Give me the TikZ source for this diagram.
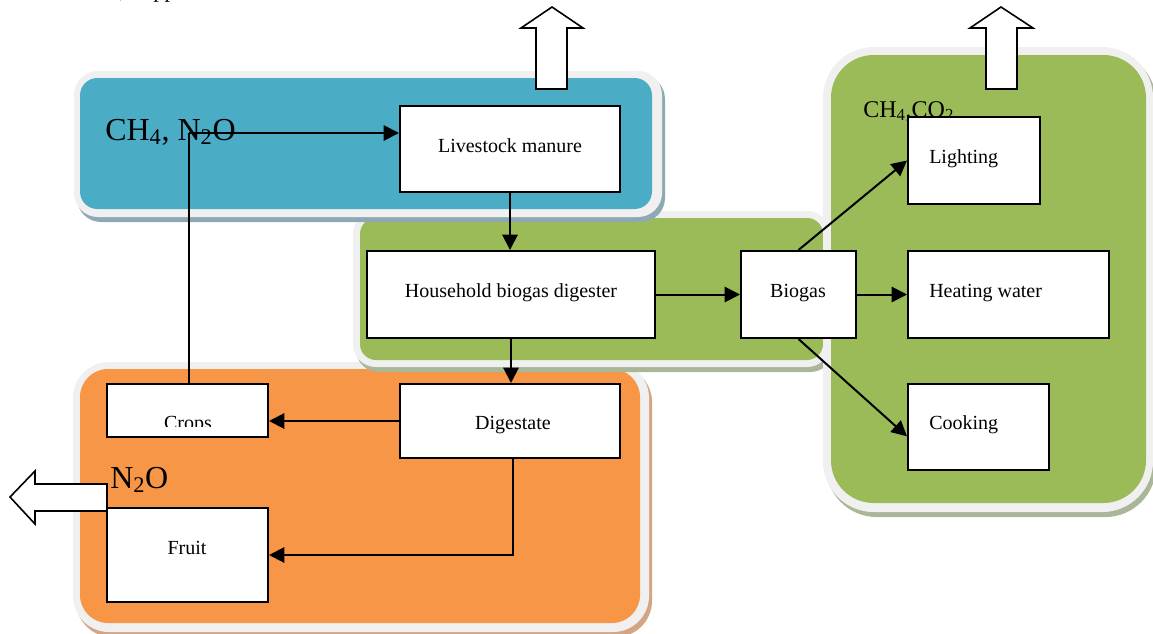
\documentclass[tikz,border=0pt]{standalone}
\usepackage{fontspec}
\setmainfont{Liberation Serif}
\usetikzlibrary{arrows.meta,fit}

\definecolor{panelblue}{HTML}{4BACC6}
\definecolor{panelgreen}{HTML}{9BBB59}
\definecolor{panelorange}{HTML}{F79646}
\definecolor{rim}{HTML}{F0F0F0}
\definecolor{shblue}{HTML}{8FA9B4}
\definecolor{shgreen}{HTML}{A9B697}
\definecolor{shorange}{HTML}{D4A584}

\begin{document}
\begin{tikzpicture}[x=0.75pt,y=-0.75pt,
  box/.style={draw=black, fill=white, line width=1.5pt, inner sep=0pt},
  txt/.style={inner sep=0pt, font=\fontsize{15pt}{18pt}\selectfont},
  gas/.style={inner sep=0pt, font=\fontsize{24pt}{28pt}\selectfont},
  smallgas/.style={inner sep=0pt, font=\fontsize{18pt}{21pt}\selectfont},
  flow/.style={line width=1.5pt, -{Triangle[length=11.5pt,width=11.5pt]}},
  hollow/.style={draw=black, fill=white, line width=1.2pt, line join=miter}]

\useasboundingbox (0,0) rectangle (1153,633);

% tail of the caption line above the figure
\node[inner sep=0pt, anchor=base west, font=\fontsize{17pt}{20pt}\selectfont] (capa) at (119,-3) {,};
\node[inner sep=0pt, anchor=base west, font=\fontsize{17pt}{20pt}\selectfont] (capb) at (153,-3) {pp};

% ---- background panels: shadow, light rim, coloured face ----
% field (orange)
\fill[shorange, rounded corners=27pt] (76,366) rectangle (652,637);
\fill[rim, rounded corners=27pt] (73,362) rectangle (649,632);
\fill[panelorange, rounded corners=21pt] (80,369) rectangle (640,623);
% digester (green, middle)
\fill[shgreen, rounded corners=17pt] (356,215) rectangle (833,372);
\fill[rim, rounded corners=17pt] (353,211) rectangle (830,367);
\fill[panelgreen, rounded corners=12pt] (360,218) rectangle (823,360);
% livestock (blue)
\fill[shblue, rounded corners=18pt] (77,75) rectangle (665,222);
\fill[rim, rounded corners=18pt] (74,71) rectangle (662,217);
\fill[panelblue, rounded corners=13pt] (80,78) rectangle (652,209);
% energy use (green, right)
\fill[shgreen, rounded corners=38pt] (826,51) rectangle (1156,517);
\fill[rim, rounded corners=38pt] (823,47) rectangle (1153,512);
\fill[panelgreen, rounded corners=32pt] (831,55) rectangle (1146,503);

% ---- emission arrows ----
\draw[hollow] (536,89) -- (536,28) -- (521,28) -- (552,7) -- (583,28) -- (567,28) -- (567,89) -- cycle;
\draw[hollow] (986,89) -- (986,28) -- (970,28) -- (1001,7) -- (1033,28) -- (1017,28) -- (1017,89) -- cycle;
\draw[hollow] (107,484) -- (35,484) -- (35,471) -- (10,497) -- (35,524) -- (35,511) -- (107,511) -- cycle;

% ---- gas labels ----
\node[gas, anchor=base west] (g1) at (105,140) {CH\textsubscript{4}, N\textsubscript{2}O};
\node[gas, anchor=base west] (g2) at (110,488) {N\textsubscript{2}O};
\node[smallgas, anchor=base west] (g3) at (863,117) {CH\textsubscript{4},CO\textsubscript{2}};

% ---- process boxes ----
\node[box, fit={(400,106) (620,192)}] (lm) {};
\node[box, fit={(367,251) (655,338)}] (hd) {};
\node[box, fit={(741,251) (856,338)}] (bg) {};
\node[box, fit={(908,117) (1040,204)}] (li) {};
\node[box, fit={(908,251) (1109,338)}] (hw) {};
\node[box, fit={(908,384) (1049,470)}] (ck) {};
\node[box, fit={(400,384) (620,458)}] (dg) {};
\node[box, fit={(107,384) (268,437)}] (cr) {};
\node[box, fit={(107,508) (268,602)}] (fr) {};

% ---- box texts ----
\node[txt, anchor=base] (tlm) at (510,152) {Livestock manure};
\node[txt, anchor=base] (thd) at (511,297) {Household biogas digester};
\node[txt, anchor=base] (tbg) at (798,297) {Biogas};
\node[txt, anchor=base west] (tli) at (929,163) {Lighting};
\node[txt, anchor=base west] (thw) at (929,297) {Heating water};
\node[txt, anchor=base west] (tck) at (929,429) {Cooking};
\node[txt, anchor=base] (tdg) at (513,429) {Digestate};
\node[txt, anchor=base] (tfr) at (187,554) {Fruit};
\begin{scope}
  \clip (108,385) rectangle (267,426);
  \node[txt, anchor=base] (tcr) at (188,429) {Crops};
\end{scope}

% ---- flows ----
\draw[flow] (lm.south) -- (lm.south |- hd.north);
\draw[flow] (hd.south) -- (hd.south |- dg.north);
\draw[flow] (hd.east) -- (bg.west);
\draw[flow] (bg.east) -- (hw.west);
\draw[flow] (bg.north) -- (li.west);
\draw[flow] (bg.south) -- ([yshift=-7pt]ck.west);
\draw[flow] (dg.west) -- (dg.west -| cr.east);
\draw[flow] ([xshift=2pt]dg.south) |- (fr.east);
\draw[line width=1pt] ([xshift=1pt]cr.north) -- ([xshift=1pt,yshift=12pt]cr.north |- lm.west);
\draw[flow] ([xshift=1pt,yshift=12pt]cr.north |- lm.west) -- ([yshift=12pt]lm.west);

\end{tikzpicture}
\end{document}
